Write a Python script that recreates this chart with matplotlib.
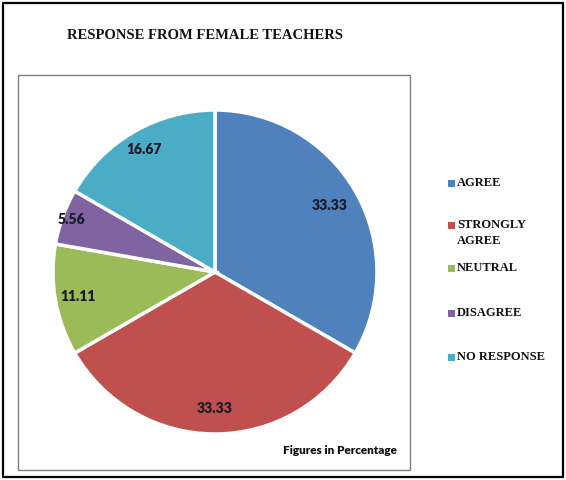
import numpy as np
import matplotlib; matplotlib.use("Agg")
import matplotlib.pyplot as plt
from matplotlib.patches import Rectangle

labels = ["AGREE", "STRONGLY\nAGREE", "NEUTRAL", "DISAGREE", "NO RESPONSE"]
values = [33.33, 33.33, 11.11, 5.56, 16.67]
colors = ["#4F81BD", "#C0504D", "#9BBB59", "#8064A2", "#4BACC6"]
title = "RESPONSE FROM FEMALE TEACHERS"
note = "Figures in Percentage"

fig = plt.figure(figsize=(5.66, 4.8), dpi=100)

# outer + inner frames
fig.patches.append(Rectangle((0.006, 0.006), 0.988, 0.988, transform=fig.transFigure,
                             fill=False, ec="black", lw=1.6))
fig.patches.append(Rectangle((0.032, 0.021), 0.693, 0.823, transform=fig.transFigure,
                             fill=False, ec="#7f7f7f", lw=1.0))

ax = fig.add_axes([0.0936, 0.0958, 0.5724, 0.675])
wedges, _ = ax.pie(values, colors=colors, startangle=90, counterclock=False,
                   wedgeprops=dict(edgecolor="white", linewidth=2.5))
dists = [0.82, 0.84, 0.86, 0.94, 0.87]   # label distance per slice
for w, v, d in zip(wedges, values, dists):
    ang = np.deg2rad((w.theta1 + w.theta2) / 2)
    ax.text(d*np.cos(ang), d*np.sin(ang), f"{v:.2f}", ha="center", va="center",
            fontsize=10, fontweight="heavy", family="Lato", color="#1a1a2a")
ax.set_xlim(-1, 1); ax.set_ylim(-1, 1)

fig.text(0.362, 0.927, title, ha="center", va="center", family="Liberation Serif",
         fontweight="bold", fontsize=10.5, color="#111111")
fig.text(0.601, 0.062, note, ha="center", va="center", family="Lato",
         fontweight="heavy", fontsize=8.5, color="#111111")

# hand-drawn legend (two-line label keeps the square on its first line)
leg_y = [183, 225, 268, 313, 357]
for lab, c, y in zip(labels, colors, leg_y):
    fig.patches.append(Rectangle((448/566, 1 - (y+3.5)/480), 7/566, 7/480,
                                 transform=fig.transFigure, fc=c, ec="none"))
    fig.text(457/566, 1 - (y - 6)/480, lab, ha="left", va="top",
             family="Liberation Serif", fontweight="bold", fontsize=9,
             color="#111111", linespacing=1.45)

fig.savefig("out.png", dpi=100)
